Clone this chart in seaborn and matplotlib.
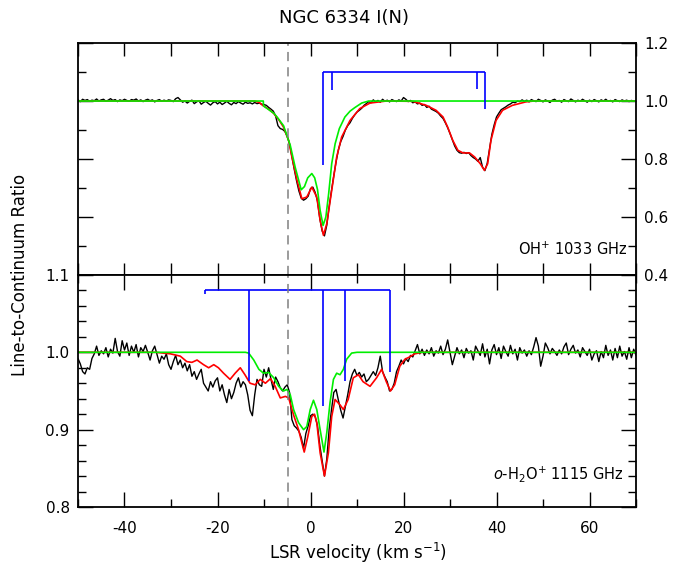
import numpy as np
import matplotlib
matplotlib.use("Agg")
import matplotlib.pyplot as plt
import seaborn as sns
from matplotlib.ticker import MultipleLocator, FormatStrFormatter

sns.set_style("ticks")
plt.rcParams['font.family'] = ['DejaVu Sans']
plt.rcParams['mathtext.fontset'] = 'custom'
plt.rcParams['mathtext.rm'] = 'DejaVu Sans'
plt.rcParams['mathtext.it'] = 'DejaVu Sans:italic'
plt.rcParams['mathtext.default'] = 'regular'
plt.rcParams['axes.unicode_minus'] = False
for k in ['text.color', 'axes.edgecolor', 'axes.labelcolor', 'xtick.color', 'ytick.color']:
    plt.rcParams[k] = 'black'

# ---------------- data ----------------
# observed channels (km/s), 0.5 km/s spacing
chan_v = np.arange(-50.0, 70.01, 0.5)

oh_obs = (
    [1.004, 0.998, 1.006, 1.002, 1.005, 0.999, 1.003, 1.001, 1.007, 1.000, 1.004, 1.006, 0.999, 1.003, 1.008, 1.002, 1.005, 0.998, 1.004, 1.001]
    + [1.006, 1.002, 0.999, 1.005, 1.003, 1.007, 1.000, 1.004, 0.998, 1.003, 1.006, 1.001, 1.004, 0.997, 1.002, 1.005, 0.999, 1.003, 1.000, 1.004]
    + [1.002, 0.998, 1.008, 1.012, 1.004, 0.996, 1.000, 0.993, 0.999, 1.003, 0.991, 0.997, 1.001, 0.989, 0.995, 0.999, 0.992, 0.986, 0.994, 0.998]
    + [0.990, 0.996, 0.988, 0.993, 0.999, 0.992, 0.987, 0.995, 0.991, 0.998, 0.993, 0.989, 0.996, 0.992, 0.994, 0.990, 0.995, 0.991, 0.993, 0.989]
    + [0.988, 0.985, 0.978, 0.972, 0.965, 0.948, 0.915, 0.905, 0.902, 0.895, 0.878, 0.852, 0.808, 0.765, 0.725, 0.690, 0.665, 0.658, 0.663, 0.672]
    + [0.698, 0.703, 0.685, 0.655, 0.595, 0.552, 0.535, 0.572, 0.635, 0.690, 0.742, 0.790, 0.832, 0.860, 0.878, 0.900, 0.915, 0.925, 0.940, 0.952]
    + [0.962, 0.968, 0.975, 0.985, 0.991, 0.998, 0.994, 1.004, 0.997, 1.002, 0.996, 1.006, 0.999, 1.003, 0.997, 1.005, 1.001, 0.998, 1.004, 1.000]
    + [1.012, 1.006, 0.998, 1.002, 0.994, 0.997, 0.990, 0.993, 0.985, 0.988, 0.978, 0.982, 0.972, 0.968, 0.964, 0.958, 0.948, 0.940, 0.925, 0.908]
    + [0.888, 0.866, 0.845, 0.830, 0.822, 0.820, 0.823, 0.819, 0.822, 0.812, 0.805, 0.800, 0.792, 0.805, 0.772, 0.760, 0.785, 0.835, 0.885, 0.918]
    + [0.945, 0.958, 0.970, 0.975, 0.980, 0.986, 0.990, 0.996, 0.994, 1.000, 0.998, 1.004, 0.999, 1.003, 0.997, 1.005, 1.001, 0.998, 1.006, 1.002]
    + [0.997, 1.004, 1.000, 0.995, 1.003, 1.006, 0.999, 1.002, 0.996, 1.005, 1.001, 0.998, 1.007, 1.002, 0.997, 1.003, 0.999, 1.006, 1.001, 0.996]
    + [1.003, 0.998, 1.005, 1.001, 0.997, 1.004, 1.000, 1.006, 0.999, 1.002, 0.997, 1.005, 1.001, 0.998, 1.004, 1.000, 1.003, 0.998, 1.002, 1.000]
    + [1.001]
)

h2o_obs = (
    [0.992, 0.985, 0.975, 0.972, 0.980, 0.978, 0.992, 0.998, 1.008, 0.996, 1.002, 0.998, 1.006, 0.994, 1.004, 0.999, 1.018, 1.001, 0.995, 1.015]
    + [1.003, 1.012, 0.996, 1.008, 1.000, 1.010, 0.994, 1.006, 1.001, 1.009, 1.000, 0.990, 1.002, 1.008, 0.997, 0.986, 0.995, 0.991, 0.998, 0.984]
    + [0.978, 0.988, 0.996, 0.984, 0.990, 0.980, 0.986, 0.976, 0.984, 0.969, 0.975, 0.965, 0.972, 0.978, 0.960, 0.955, 0.950, 0.962, 0.955, 0.963]
    + [0.967, 0.950, 0.958, 0.945, 0.935, 0.952, 0.940, 0.948, 0.960, 0.967, 0.955, 0.962, 0.958, 0.945, 0.925, 0.918, 0.945, 0.965, 0.958, 0.956]
    + [0.978, 0.968, 0.980, 0.965, 0.952, 0.968, 0.962, 0.954, 0.950, 0.955, 0.958, 0.948, 0.913, 0.905, 0.902, 0.898, 0.890, 0.876, 0.895, 0.905]
    + [0.918, 0.920, 0.917, 0.905, 0.880, 0.860, 0.840, 0.862, 0.900, 0.925, 0.948, 0.952, 0.938, 0.925, 0.915, 0.930, 0.945, 0.962, 0.972, 0.978]
    + [0.970, 0.974, 0.968, 0.972, 0.962, 0.965, 0.970, 0.975, 0.970, 0.980, 0.995, 0.975, 0.968, 0.962, 0.950, 0.952, 0.960, 0.975, 0.982, 0.990]
    + [0.985, 0.992, 0.988, 0.996, 0.994, 1.002, 1.010, 0.998, 1.004, 0.996, 1.003, 0.998, 1.006, 0.995, 1.002, 0.999, 1.008, 0.997, 1.004, 1.016]
    + [1.000, 0.984, 0.995, 1.006, 0.998, 1.003, 0.993, 1.005, 0.999, 1.002, 0.990, 1.008, 1.002, 0.996, 1.011, 0.994, 1.004, 0.985, 1.003, 1.010]
    + [0.997, 1.006, 0.992, 1.008, 1.001, 0.995, 1.009, 0.998, 1.004, 0.990, 1.006, 0.999, 1.003, 0.995, 1.002, 0.997, 1.007, 1.019, 1.008, 0.982]
    + [0.995, 1.012, 1.006, 0.998, 1.005, 1.001, 0.996, 1.003, 0.998, 1.007, 1.012, 0.997, 1.004, 1.009, 0.999, 1.003, 0.994, 1.006, 1.001, 0.996]
    + [1.004, 0.990, 0.998, 1.002, 0.988, 1.001, 0.993, 1.009, 0.996, 1.003, 0.990, 1.005, 0.993, 1.008, 0.995, 1.001, 0.991, 1.006, 0.993, 1.004]
    + [0.996]
)

# full model fits (red)
oh_fit_v = [-50, -12, -11, -10.3, -9, -7.9, -6.8, -5.8, -4.7, -4.0, -2.9, -1.86, -0.8, 0.28, 1.35, 2.07, 2.78, 3.5,
            4.56, 5.63, 6.7, 8.5, 10.6, 12.8, 16.3, 22, 24.9, 27, 28.5, 29.5, 30.6, 31.7, 32.8, 34.2, 35.3, 36.5,
            37.4, 38.1, 38.8, 39.9, 41.3, 43.4, 46.3, 48, 70]
oh_fit = [1.0, 1.0, 0.995, 0.985, 0.972, 0.957, 0.935, 0.91, 0.864, 0.807, 0.727, 0.663, 0.669, 0.703, 0.669, 0.589,
          0.537, 0.577, 0.692, 0.807, 0.876, 0.933, 0.974, 0.993, 1.0, 0.999, 0.985, 0.968, 0.945, 0.91, 0.864, 0.83,
          0.821, 0.821, 0.807, 0.784, 0.761, 0.784, 0.864, 0.933, 0.968, 0.985, 0.997, 1.0, 1.0]

h2o_fit_v = [-50, -33.3, -30.1, -28, -26.6, -25.5, -24.4, -23.0, -21.9, -20.8, -19.8, -18.7, -17.3, -16.2, -15.1,
             -14.1, -13.0, -11.9, -10.8, -9.7, -8.6, -7.6, -6.5, -5.4, -4.7, -3.64, -2.57, -1.86, -1.35, -0.58,
             0.28, 0.86, 1.35, 2.07, 3.0, 3.85, 4.56, 5.28, 6.35, 7.07, 8.1, 9.2, 10.3, 11.3, 12.8, 14.2, 15.3,
             16.3, 17.2, 18.1, 19.2, 20.3, 21.3, 22.4, 24, 70]
h2o_fit = [1.0, 1.0, 0.998, 0.995, 0.988, 0.987, 0.990, 0.984, 0.980, 0.984, 0.980, 0.973, 0.965, 0.973, 0.980,
           0.971, 0.960, 0.958, 0.965, 0.960, 0.966, 0.956, 0.941, 0.943, 0.941, 0.919, 0.90, 0.883, 0.871, 0.891,
           0.917, 0.92, 0.909, 0.870, 0.840, 0.870, 0.917, 0.939, 0.932, 0.926, 0.939, 0.967, 0.971, 0.962, 0.956,
           0.967, 0.978, 0.962, 0.950, 0.958, 0.982, 0.991, 0.994, 0.998, 1.0, 1.0]

# source-only components (green)
oh_src_v = [-50, -10.15, -10.1, -7.9, -7.2, -5.8, -4.35, -3.3, -2.0, -1.3, -0.6, 0.28, 0.9, 1.5, 2.07, 2.7, 3.3,
            3.9, 4.56, 5.3, 6.2, 7.4, 8.5, 9.5, 11, 12.5, 70]
oh_src = [1.0, 1.0, 0.983, 0.958, 0.945, 0.915, 0.847, 0.772, 0.694, 0.705, 0.735, 0.75, 0.735, 0.695, 0.623,
          0.571, 0.600, 0.68, 0.784, 0.853, 0.905, 0.945, 0.965, 0.977, 0.993, 1.0, 1.0]

h2o_src_v = [-50, -14, -13.3, -12.2, -11.1, -10.1, -9.0, -7.9, -6.85, -5.8, -5.07, -4.35, -3.64, -2.57, -1.5,
             -0.8, -0.06, 0.64, 1.35, 2.07, 2.9, 3.5, 4.2, 4.93, 5.63, 6.35, 7.07, 7.77, 8.85, 10, 70]
h2o_src = [1.0, 1.0, 0.999, 0.99, 0.978, 0.973, 0.974, 0.967, 0.956, 0.95, 0.952, 0.945, 0.926, 0.909, 0.90,
           0.904, 0.926, 0.938, 0.926, 0.90, 0.871, 0.896, 0.935, 0.965, 0.973, 0.971, 0.978, 0.991, 0.999, 1.0, 1.0]

# hyperfine markers (blue)
oh_hfs_v = [2.6, 4.65, 35.8, 37.5]
oh_hfs_end = [0.78, 1.037, 1.04, 0.974]
oh_hfs_level = 1.10
h2o_hfs_v = [-22.7, -13.2, 2.7, 7.4, 17.1]
h2o_hfs_end = [1.075, 0.963, 0.930, 0.963, 0.975]
h2o_hfs_level = 1.08

v_sys = -4.8

# ---------------- figure ----------------
fig = plt.figure(figsize=(6.89, 5.79), dpi=100)
ax1 = fig.add_axes([0.1132, 0.525, 0.8099, 0.4007])
ax2 = fig.add_axes([0.1132, 0.1244, 0.8099, 0.4007])

def draw(ax, obs, fit_v, fit, src_v, src, hv, hend, hlev):
    sns.lineplot(x=chan_v, y=obs, ax=ax, color='black', lw=1.0, estimator=None, sort=False)
    sns.lineplot(x=fit_v, y=fit, ax=ax, color='#ff0000', lw=1.2, estimator=None, sort=False)
    sns.lineplot(x=src_v, y=src, ax=ax, color='#00ee00', lw=1.2, estimator=None, sort=False)
    ax.hlines(hlev, min(hv), max(hv), color='#0000ff', lw=1.2)
    ax.vlines(hv, hend, hlev, color='#0000ff', lw=1.2)
    ax.axvline(v_sys, color='#808080', lw=1.1, dashes=(6, 4))
    ax.set_xlim(-50, 70)
    for s in ax.spines.values():
        s.set_linewidth(1.3)
        s.set_visible(True)
    ax.set_xlabel('')
    ax.set_ylabel('')

draw(ax1, oh_obs, oh_fit_v, oh_fit, oh_src_v, oh_src, oh_hfs_v, oh_hfs_end, oh_hfs_level)
draw(ax2, h2o_obs, h2o_fit_v, h2o_fit, h2o_src_v, h2o_src, h2o_hfs_v, h2o_hfs_end, h2o_hfs_level)

# top panel axes
ax1.set_ylim(0.4, 1.2)
ax1.yaxis.set_major_locator(MultipleLocator(0.2))
ax1.yaxis.set_minor_locator(MultipleLocator(0.1))
ax1.yaxis.set_major_formatter(FormatStrFormatter('%.1f'))
ax1.xaxis.set_major_locator(MultipleLocator(10))
ax1.tick_params(axis='both', which='both', direction='in', top=True, right=True, width=1.0)
ax1.tick_params(axis='y', which='major', length=11, labelleft=False, labelright=True, labelsize=11, pad=6)
ax1.tick_params(axis='y', which='minor', length=6)
ax1.tick_params(axis='x', which='major', length=9, labelbottom=False)

# bottom panel axes
ax2.set_ylim(0.8, 1.1)
ax2.yaxis.set_major_locator(MultipleLocator(0.1))
ax2.yaxis.set_minor_locator(MultipleLocator(0.02))
ax2.yaxis.set_major_formatter(FormatStrFormatter('%.1f'))
ax2.xaxis.set_major_locator(MultipleLocator(20))
ax2.xaxis.set_minor_locator(MultipleLocator(10))
ax2.tick_params(axis='both', which='both', direction='in', top=True, right=True, width=1.0)
ax2.tick_params(axis='both', which='major', length=11, labelsize=11, pad=6)
ax2.tick_params(axis='both', which='minor', length=6)
ax2.tick_params(axis='x', which='major', pad=10)

ax1.text(0.985, 0.085, r'OH$^{+}$ 1033 GHz', transform=ax1.transAxes, ha='right', va='baseline', fontsize=10.5)
ax2.text(0.978, 0.12, r'$\mathit{o}$-H$_{2}$O$^{+}$ 1115 GHz', transform=ax2.transAxes, ha='right', va='baseline',
         fontsize=10.5)

fig.text(344 / 689, 1 - 18 / 579, 'NGC 6334 I(N)', ha='center', va='center', fontsize=13)
fig.text(358 / 689, 1 - 553 / 579, r'LSR velocity (km s$^{-1}$)', ha='center', va='center', fontsize=12)
fig.text(20 / 689, 1 - 275 / 579, 'Line-to-Continuum Ratio', ha='center', va='center', rotation=90, fontsize=12)

fig.savefig('out.png', dpi=100)
